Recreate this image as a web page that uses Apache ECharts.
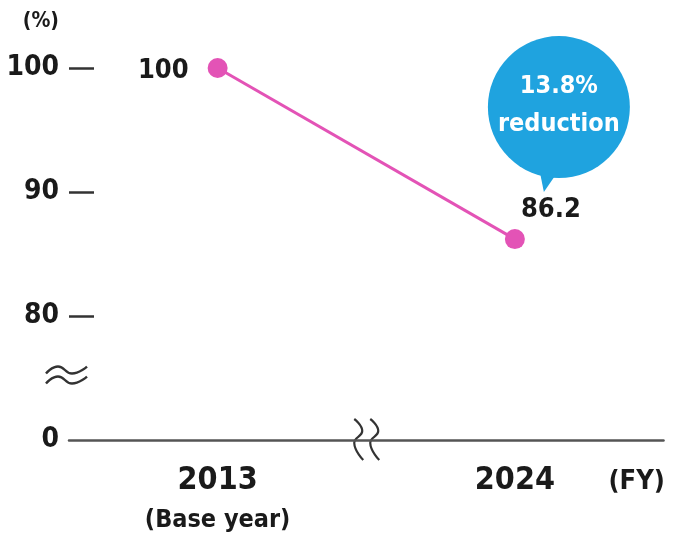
<!DOCTYPE html>
<html><head><meta charset="utf-8">
<script src="https://cdn.jsdelivr.net/npm/echarts@6/dist/echarts.min.js"></script>
<style>html,body{margin:0;padding:0;background:#fff}#c{width:677px;height:541px}</style>
</head><body><div id="c"></div>
<script>
const categories = ['2013', '2024'];
const categorySubLabels = ['(Base year)', ''];
const values = [100, 86.2];
const yTickValues = [80, 90, 100];
const yLabelValues = [70, 80, 90, 100];
const yLabelText = {70: '0', 80: '80', 90: '90', 100: '100'};
const calloutLines = ['13.8%', 'reduction'];
const yUnit = '(%)';
const xUnit = '(FY)';

const FONT = "'Liberation Sans Narrow','DejaVu Sans Condensed','Arial Narrow',sans-serif";
const PINK = '#e353b6';
const BLUE = '#1fa3df';
const INK = '#1a1a1a';

const chart = echarts.init(document.getElementById('c'), null, {renderer: 'canvas'});

chart.setOption({
  animation: false,
  backgroundColor: '#fff',
  grid: {left: 69, right: 13.5, top: 68, bottom: 101, outerBoundsMode: 'none', containLabel: false},
  xAxis: {
    type: 'category',
    data: categories,
    boundaryGap: true,
    axisLine: {lineStyle: {color: '#555', width: 2.5}},
    axisTick: {show: false},
    splitLine: {show: false},
    axisLabel: {
      margin: 22,
      formatter: (v, i) => categorySubLabels[i] ? '{a|' + v + '}\n{b|' + categorySubLabels[i] + '}' : '{a|' + v + '}',
      rich: {
        a: {fontFamily: FONT, fontWeight: 'bold', fontSize: 32, color: INK, lineHeight: 38},
        b: {fontFamily: FONT, fontWeight: 'bold', fontSize: 25, color: INK, lineHeight: 40}
      }
    },
    name: xUnit,
    nameLocation: 'end',
    nameGap: -55,
    nameTextStyle: {fontFamily: FONT, fontWeight: 'bold', fontSize: 27, color: INK,
      align: 'left', verticalAlign: 'top', padding: [28, 0, 0, 0]}
  },
  yAxis: {
    type: 'value',
    min: 70, max: 100, interval: 10,
    axisLine: {show: false},
    splitLine: {show: false},
    axisTick: {show: true, inside: true, length: 25, customValues: yTickValues,
      lineStyle: {color: '#333', width: 2.5}},
    axisLabel: {
      customValues: yLabelValues,
      margin: 10,
      formatter: v => yLabelText[v] !== undefined ? yLabelText[v] : String(v),
      fontFamily: FONT, fontWeight: 'bold', fontSize: 28, color: INK
    },
    name: yUnit,
    nameLocation: 'end',
    nameGap: 36,
    nameTextStyle: {fontFamily: FONT, fontWeight: 'bold', fontSize: 21, color: INK,
      align: 'right', padding: [0, 10, 0, 0]}
  },
  series: [{
    type: 'line',
    data: values.map((v, i) => ({
      value: v,
      label: i === 0
        ? {position: 'left', distance: 19, offset: [0, 3]}
        : {position: 'top', distance: 6, offset: [36, 0]}
    })),
    symbol: 'circle',
    symbolSize: 20,
    lineStyle: {color: PINK, width: 3},
    itemStyle: {color: PINK},
    label: {show: true, fontFamily: FONT, fontWeight: 'bold', fontSize: 27, color: INK,
      formatter: p => String(p.value)}
  }]
});

// callout bubble anchored to the 2024 point, break marks
const p1 = chart.convertToPixel({seriesIndex: 0}, [1, values[1]]);
const bx = p1[0] + 44, by = p1[1] - 132, br = 71;
const x0 = chart.convertToPixel({xAxisIndex: 0}, 0);
const x1 = chart.convertToPixel({xAxisIndex: 0}, 1);
const xb = (x0 + x1) / 2;
const axisY = chart.convertToPixel({yAxisIndex: 0}, 70);
const yb = chart.convertToPixel({yAxisIndex: 0}, 75.2);
const yx = 66;

function sCurve(dx) {
  return {type: 'polyline', shape: {points: [[xb + dx - 3, axisY - 21], [xb + dx + 5, axisY - 9], [xb + dx - 3, axisY + 3], [xb + dx + 6, axisY + 20]], smooth: 0.5},
    style: {stroke: '#333', lineWidth: 2.2, fill: null}};
}
function wave(cy) {
  return {type: 'polyline', shape: {points: [[yx - 20, cy + 3], [yx - 8, cy - 4], [yx + 6, cy + 3], [yx + 21, cy - 4]], smooth: 0.5},
    style: {stroke: '#333', lineWidth: 2.4, fill: null}};
}
chart.setOption({
  graphic: [
    {type: 'rect', shape: {x: xb - 9, y: axisY - 4, width: 20, height: 8}, style: {fill: '#fff'}},
    sCurve(-9), sCurve(7),
    wave(yb - 5), wave(yb + 5),
    {type: 'polygon', shape: {points: [[bx - 19, by + br - 6], [bx - 4, by + br - 2], [bx - 15, by + br + 14]]}, style: {fill: BLUE}},
    {type: 'circle', shape: {cx: bx, cy: by, r: br}, style: {fill: BLUE}},
    {type: 'text', x: bx, y: by - 2, style: {
      text: calloutLines.join('\n'), fill: '#fff', align: 'center', verticalAlign: 'middle',
      font: 'bold 25px ' + FONT, lineHeight: 38}}
  ]
});
</script></body></html>
